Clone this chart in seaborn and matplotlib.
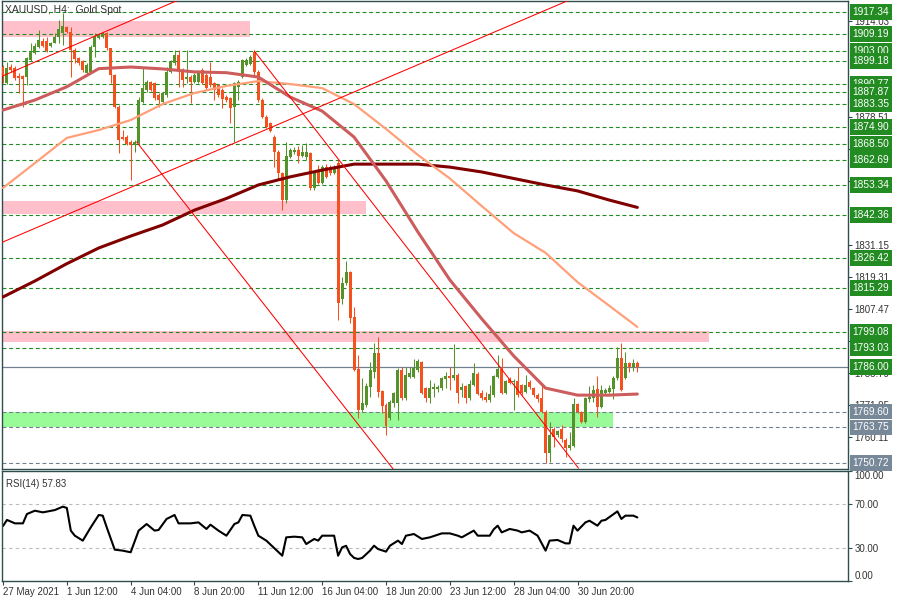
import numpy as np
import pandas as pd
import matplotlib
matplotlib.use('Agg')
import matplotlib.pyplot as plt
import matplotlib.transforms as mtransforms
import seaborn as sns

sns.set_theme(style='white', context='paper')
plt.rcParams['font.family'] = ['Liberation Sans', 'DejaVu Sans']

# H4 candles, bar 0 = 27 May 2021 00:00
opens = [1897.0, 1891.1, 1897.0, 1896.6, 1893.7, 1893.7, 1893.3, 1899.6, 1902.2, 1904.4,
         1906.6, 1906.6, 1904.8, 1905.9, 1908.1, 1909.6, 1911.8, 1910.0, 1903.3, 1900.3,
         1899.2, 1894.8, 1895.2, 1904.4, 1907.7, 1908.1, 1909.6, 1904.0, 1894.1, 1882.2,
         1871.1, 1871.1, 1869.3, 1868.2, 1868.9, 1884.1, 1888.5, 1891.5, 1891.1, 1886.7,
         1884.1, 1886.7, 1895.2, 1898.5, 1901.5, 1895.9, 1892.6, 1893.3, 1891.5, 1891.5,
         1895.9, 1894.1, 1893.3, 1891.1, 1890.4, 1888.5, 1885.9, 1885.6, 1882.2, 1889.6,
         1893.3, 1897.8, 1898.1, 1902.6, 1895.2, 1884.8, 1878.5, 1876.3, 1871.1, 1865.6,
         1857.8, 1847.8, 1863.7, 1865.6, 1866.3, 1864.1, 1863.7, 1865.2, 1852.3, 1858.6,
         1854.1, 1860.0, 1860.0, 1857.8, 1861.5, 1811.2, 1817.2, 1821.2, 1804.6, 1785.4,
         1770.2, 1772.1, 1778.7, 1784.3, 1791.3, 1777.2, 1772.1, 1767.2, 1772.8, 1772.8,
         1785.0, 1774.6, 1782.4, 1782.4, 1785.0, 1788.0, 1778.3, 1774.6, 1778.0, 1778.0,
         1778.3, 1781.7, 1782.8, 1782.0, 1783.1, 1777.6, 1779.1, 1774.6, 1779.4, 1783.5,
         1776.5, 1775.0, 1773.9, 1775.7, 1782.4, 1785.4, 1776.5, 1781.7, 1780.6, 1780.9,
         1779.4, 1776.9, 1780.6, 1778.3, 1775.7, 1774.6, 1769.5, 1754.3, 1763.2, 1761.0,
         1763.2, 1759.1, 1756.2, 1756.9, 1772.4, 1769.5, 1765.8, 1774.3, 1774.6, 1778.0,
         1771.3, 1776.5, 1776.9, 1778.0, 1782.0, 1789.4, 1782.0, 1787.6, 1786.1, 1787.6]
highs = [1897.8, 1898.9, 1898.1, 1897.4, 1894.8, 1894.1, 1900.7, 1905.9, 1905.9, 1910.7,
         1907.7, 1908.1, 1906.3, 1909.6, 1914.4, 1917.0, 1912.2, 1911.8, 1904.0, 1900.7,
         1899.6, 1898.5, 1905.1, 1909.6, 1909.6, 1910.0, 1909.8, 1904.2, 1894.3, 1883.0,
         1873.7, 1871.9, 1870.0, 1870.0, 1885.9, 1896.6, 1892.2, 1891.8, 1891.5, 1887.4,
         1887.8, 1897.0, 1899.6, 1903.3, 1903.3, 1896.6, 1903.3, 1894.1, 1894.8, 1895.9,
         1896.6, 1894.8, 1898.9, 1891.5, 1890.7, 1889.2, 1886.7, 1885.9, 1891.5, 1892.2,
         1900.0, 1900.3, 1901.5, 1903.3, 1895.9, 1885.6, 1879.3, 1876.7, 1871.9, 1866.3,
         1858.2, 1869.3, 1867.1, 1867.4, 1867.8, 1868.2, 1868.9, 1865.6, 1858.9, 1860.8,
         1860.8, 1861.1, 1860.8, 1860.8, 1862.6, 1819.4, 1825.3, 1821.5, 1808.3, 1790.5,
         1782.0, 1780.2, 1788.0, 1795.0, 1797.2, 1777.6, 1772.8, 1773.9, 1776.9, 1785.7,
         1786.1, 1786.1, 1786.1, 1789.1, 1789.1, 1788.3, 1778.7, 1781.3, 1780.2, 1779.4,
         1782.4, 1784.3, 1786.1, 1794.6, 1783.9, 1780.2, 1779.4, 1781.3, 1787.6, 1784.3,
         1777.6, 1776.9, 1779.4, 1783.1, 1790.5, 1789.4, 1781.3, 1782.4, 1781.7, 1786.1,
         1779.8, 1783.1, 1781.3, 1778.7, 1776.5, 1779.1, 1770.2, 1765.8, 1763.9, 1762.8,
         1764.7, 1759.9, 1762.1, 1774.6, 1772.8, 1769.8, 1775.0, 1779.1, 1779.4, 1782.8,
         1779.4, 1778.3, 1779.4, 1782.8, 1793.5, 1795.0, 1791.6, 1787.8, 1789.1, 1788.3]
lows = [1891.1, 1890.9, 1895.2, 1892.2, 1887.4, 1882.2, 1890.4, 1899.2, 1901.8, 1904.2,
        1904.4, 1902.6, 1904.4, 1905.7, 1905.9, 1905.1, 1909.6, 1893.3, 1898.5, 1897.8,
        1895.2, 1894.4, 1894.8, 1900.7, 1907.4, 1907.7, 1903.3, 1891.1, 1881.9, 1865.2,
        1870.0, 1868.2, 1855.2, 1865.6, 1868.2, 1883.7, 1887.8, 1888.1, 1884.8, 1882.2,
        1883.7, 1885.9, 1894.8, 1897.8, 1889.6, 1889.6, 1891.1, 1883.7, 1891.1, 1891.1,
        1890.7, 1888.9, 1889.6, 1884.8, 1885.9, 1881.9, 1884.1, 1876.3, 1869.3, 1884.8,
        1892.9, 1897.4, 1897.8, 1894.1, 1884.1, 1878.3, 1874.5, 1873.0, 1860.0, 1855.2,
        1844.1, 1846.7, 1863.4, 1864.8, 1861.5, 1863.7, 1862.6, 1851.5, 1851.5, 1853.8,
        1853.8, 1856.0, 1857.1, 1857.5, 1803.5, 1809.4, 1816.4, 1802.4, 1784.6, 1767.2,
        1769.5, 1771.3, 1775.0, 1782.0, 1775.0, 1769.1, 1761.0, 1766.5, 1771.3, 1766.5,
        1773.9, 1773.9, 1782.0, 1782.0, 1784.3, 1776.1, 1773.2, 1772.8, 1775.0, 1776.9,
        1777.6, 1778.3, 1777.6, 1781.3, 1772.8, 1775.0, 1772.8, 1773.9, 1779.1, 1775.7,
        1773.9, 1773.2, 1773.2, 1775.0, 1782.0, 1776.2, 1776.2, 1779.8, 1770.2, 1775.0,
        1775.7, 1776.5, 1778.0, 1775.0, 1773.2, 1769.1, 1750.6, 1750.8, 1756.5, 1760.2,
        1758.4, 1752.8, 1755.4, 1756.5, 1769.1, 1765.4, 1765.4, 1773.2, 1773.2, 1767.6,
        1771.0, 1775.7, 1776.5, 1774.3, 1781.3, 1777.2, 1781.7, 1784.3, 1784.6, 1784.3]
closes = [1893.7, 1896.6, 1895.9, 1892.9, 1892.9, 1892.6, 1900.3, 1902.6, 1904.8, 1907.0,
          1904.8, 1902.9, 1905.9, 1908.1, 1911.1, 1912.2, 1910.0, 1903.3, 1900.0, 1898.5,
          1895.9, 1897.8, 1904.4, 1908.1, 1909.2, 1909.6, 1904.0, 1894.1, 1882.2, 1870.0,
          1870.4, 1868.5, 1868.2, 1869.3, 1884.8, 1889.2, 1891.5, 1888.5, 1885.6, 1884.8,
          1887.4, 1895.2, 1898.9, 1901.5, 1895.9, 1892.2, 1893.3, 1891.5, 1894.1, 1895.2,
          1891.1, 1889.2, 1890.4, 1888.5, 1886.7, 1885.2, 1884.8, 1881.9, 1891.1, 1891.5,
          1899.6, 1899.6, 1900.7, 1895.2, 1884.8, 1878.6, 1874.8, 1873.3, 1865.6, 1857.8,
          1847.8, 1864.1, 1866.3, 1866.3, 1864.1, 1865.6, 1865.6, 1852.3, 1858.2, 1854.1,
          1860.0, 1856.3, 1857.8, 1859.7, 1809.8, 1817.2, 1821.2, 1804.2, 1785.0, 1770.2,
          1772.8, 1779.1, 1785.0, 1791.3, 1776.9, 1771.7, 1764.3, 1773.2, 1776.5, 1785.0,
          1774.6, 1783.1, 1783.9, 1785.7, 1788.3, 1776.5, 1774.6, 1778.3, 1778.7, 1778.7,
          1782.0, 1782.8, 1782.0, 1783.1, 1776.5, 1778.7, 1774.6, 1779.8, 1783.9, 1776.1,
          1774.6, 1773.9, 1776.1, 1782.8, 1785.4, 1776.5, 1780.9, 1780.2, 1780.9, 1775.7,
          1776.5, 1779.4, 1778.7, 1775.7, 1774.3, 1769.5, 1754.3, 1761.0, 1760.2, 1762.4,
          1759.5, 1756.2, 1757.3, 1772.4, 1769.5, 1765.8, 1774.6, 1775.0, 1777.6, 1771.3,
          1777.6, 1777.6, 1778.3, 1782.0, 1789.4, 1777.6, 1787.6, 1786.1, 1787.6, 1786.0]

# moving averages, read every 8 bars
ma_bars = [0, 8, 16, 24, 32, 40, 48, 56, 64, 72, 80, 88, 96, 104, 112, 120, 128, 136, 144, 152, 159]
ma_fast = [1881.1, 1884.8, 1889.7, 1896.4, 1897.0, 1896.3, 1895.2, 1894.9, 1893.3, 1885.9, 1880.7,
           1871.1, 1854.9, 1836.0, 1818.3, 1803.9, 1790.2, 1778.3, 1775.7, 1775.7, 1776.1]
ma_mid = [1852.3, 1861.5, 1870.8, 1873.7, 1877.4, 1883.3, 1887.4, 1890.0, 1891.8, 1890.7, 1889.2,
          1883.3, 1874.1, 1864.5, 1855.8, 1845.6, 1835.6, 1828.3, 1817.5, 1808.7, 1800.9]
ma_slow = [1812.0, 1817.9, 1824.3, 1830.1, 1834.5, 1838.6, 1844.1, 1848.4, 1853.4, 1856.4, 1858.9,
           1861.1, 1861.1, 1861.1, 1860.0, 1858.2, 1855.8, 1853.4, 1851.2, 1847.8, 1845.1]

# RSI(14)
rsi_bars = [0, 1, 3, 5, 6, 8, 10, 13, 15, 16, 17, 18, 20, 22, 24, 25, 26, 28, 30, 32,
            34, 36, 38, 39, 41, 43, 44, 47, 49, 51, 52, 54, 56, 58, 59, 60, 62, 63, 64, 66,
            70, 71, 73, 75, 76, 78, 79, 80, 83, 84, 85, 86, 87, 88, 89, 90, 92, 93, 94, 96,
            97, 99, 100, 101, 103, 105, 107, 110, 112, 114, 115, 118, 119, 122, 123, 124, 125, 127, 129, 130,
            132, 134, 136, 137, 139, 141, 142, 143, 144, 146, 147, 149, 150, 151, 154, 155, 156, 158, 159]
rsi_vals = [50.0, 55.5, 52.4, 52.4, 60.9, 63.9, 62.4, 64.5, 67.6, 66.4, 45.8, 41.2, 36.7, 48.8, 60.0, 59.4, 48.8, 28.5, 27.6, 26.1,
            45.8, 51.8, 45.8, 46.4, 56.4, 60.0, 52.4, 52.4, 53.3, 47.3, 51.2, 45.8, 41.2, 51.8, 53.3, 60.0, 59.4, 50.0, 41.2, 36.7,
            23.0, 39.7, 40.3, 39.7, 33.6, 38.2, 36.7, 41.2, 41.2, 23.0, 30.6, 32.0, 24.5, 21.0, 20.0, 20.9, 27.6, 32.1, 29.1, 26.7,
            32.1, 36.7, 33.6, 41.2, 42.7, 38.2, 39.7, 43.3, 43.3, 41.2, 39.7, 45.8, 41.2, 41.2, 47.0, 50.3, 44.2, 47.3, 45.8, 44.2,
            45.8, 41.2, 27.6, 36.7, 37.3, 34.2, 34.2, 50.3, 45.8, 53.3, 54.8, 50.3, 54.8, 55.5, 63.3, 56.4, 59.4, 59.4, 57.8]
rsi_now = 57.83

green_levels = [1917.34, 1909.19, 1903.00, 1899.18, 1890.77, 1887.87, 1883.35, 1874.90, 1868.50,
                1862.69, 1853.34, 1842.36, 1826.42, 1815.29, 1799.08, 1793.03]
gray_levels = [1769.60, 1763.75, 1750.72]
bid_price = 1786.00
# price scale ticks that show (wholly or partly) beside the level boxes
price_ticks = [1914.03, 1878.51, 1866.67, 1854.83, 1831.15,
               1819.31, 1807.47, 1795.63, 1783.79, 1771.95, 1760.11]

# zones: start bar, end bar, low, high
pink_zones = [(0, 62, 1908.2, 1914.1), (0, 91, 1842.6, 1847.6), (0, 177, 1795.4, 1799.3)]
green_zones = [(0, 153, 1763.8, 1769.6)]

# trend lines: (bar, price) -> (bar, price)
trend_lines = [((-1, 1893.1), (44, 1921.8)),
               ((-1, 1831.7), (142, 1921.8)),
               ((63, 1902.9), (144.25, 1748.7)),
               ((33.5, 1869.3), (98, 1748.0))]

date_ticks = [0, 16, 32, 48, 64, 80, 96, 112, 128, 144]
date_labels = ['27 May 2021', '1 Jun 12:00', '4 Jun 04:00', '8 Jun 20:00', '11 Jun 12:00',
               '16 Jun 04:00', '18 Jun 20:00', '23 Jun 12:00', '28 Jun 04:00', '30 Jun 20:00']

frame_col = '#2F4F4F'
up_col = '#56922C'
down_col = '#F4511E'
lvl_green = '#1F8A1F'
lvl_gray = '#708090'

df = pd.DataFrame({'o': opens, 'h': highs, 'l': lows, 'c': closes})
df['bar'] = np.arange(len(df))
df['up'] = df['c'] >= df['o']

fig = plt.figure(figsize=(9, 6), dpi=100)
fig.patch.set_facecolor('white')
ax = fig.add_axes([2/900, 1-469/600, 846/900, 468/600])
ax2 = fig.add_axes([2/900, 1-581/600, 846/900, 110/600])

xlim = (-0.25, 211.8)

# ---- main chart ----
for b0, b1, lo, hi in pink_zones:
    ax.fill_between([b0, b1], lo, hi, color='#FFC0CB', lw=0, zorder=1)
for b0, b1, lo, hi in green_zones:
    ax.fill_between([b0, b1], lo, hi, color='#98FB98', lw=0, zorder=1)

for p in green_levels:
    ax.axhline(p, color=lvl_green, lw=0.8, ls=(0, (3.5, 2.5)), zorder=1.5)
for p in gray_levels:
    ax.axhline(p, color=lvl_gray, lw=0.8, ls=(0, (3.5, 2.5)), zorder=1.5)
ax.axhline(bid_price, color=lvl_gray, lw=0.9, zorder=1.5)

cols = np.where(df['up'], up_col, down_col)
ax.vlines(df['bar'], df['l'], df['h'], colors=cols, lw=0.75, zorder=3)
body_lo = df[['o', 'c']].min(axis=1)
body_h = np.maximum((df['c'] - df['o']).abs(), 0.35)
ax.bar(df['bar'], body_h, bottom=body_lo, width=0.75, color=cols, lw=0, zorder=3)

sns.lineplot(x=ma_bars, y=ma_slow, ax=ax, color='#800000', linewidth=2.2, zorder=4)
sns.lineplot(x=ma_bars, y=ma_mid, ax=ax, color='#FFA07A', linewidth=1.6, zorder=4)
sns.lineplot(x=ma_bars, y=ma_fast, ax=ax, color='#CD5C5C', linewidth=2.2, zorder=4)

for (b0, p0), (b1, p1) in trend_lines:
    ax.plot([b0, b1], [p0, p1], color='#FF0000', lw=0.75, zorder=4.5)

ax.set_xlim(*xlim)
ax.set_ylim(1748.39, 1921.41)
ax.set_xticks([])
ax.yaxis.tick_right()
ax.set_yticks(price_ticks)
ax.set_yticklabels(['%.2f' % t for t in price_ticks])
ax.tick_params(axis='y', right=True, left=False, length=3, width=0.8, color=frame_col,
               labelsize=7, labelcolor='#333333', pad=1.5)
ax.set_xlabel('')
ax.set_ylabel('')

trans = mtransforms.blended_transform_factory(ax.transAxes, ax.transData)
for p in green_levels + [bid_price]:
    ax.text(1.0055, p, '%.2f' % p, transform=trans, ha='left', va='center', fontsize=7.3,
            color='white', zorder=10, clip_on=False,
            bbox=dict(boxstyle='square,pad=0.28', fc='#228B22', ec='none'))
for p in gray_levels:
    ax.text(1.0055, p, '%.2f' % p, transform=trans, ha='left', va='center', fontsize=7.3,
            color='white', zorder=10, clip_on=False,
            bbox=dict(boxstyle='square,pad=0.28', fc='#778899', ec='none'))

ax.text(0.004, 0.992, 'XAUUSD, H4:  Gold Spot', transform=ax.transAxes, ha='left', va='top',
        fontsize=7.5, color='#333333', zorder=10)

# ---- RSI panel ----
ax2.axhline(70, color='#BBBBBB', lw=0.8, ls=(0, (3, 3)))
ax2.axhline(30, color='#BBBBBB', lw=0.8, ls=(0, (3, 3)))
sns.lineplot(x=rsi_bars, y=rsi_vals, ax=ax2, color='black', linewidth=1.5)
ax2.set_xlim(*xlim)
ax2.set_ylim(0, 100)
ax2.yaxis.tick_right()
ax2.set_yticks([0, 30, 70, 100])
ax2.set_yticklabels(['0.00', '30.00', '70.00', '100.00'])
ax2.tick_params(axis='y', right=True, left=False, length=3, width=0.8, color=frame_col,
                labelsize=7, labelcolor='#333333', pad=1.5)
ylabs = ax2.get_yticklabels()
ylabs[0].set_va('bottom')
ylabs[3].set_va('top')
ax2.set_xticks(date_ticks)
ax2.set_xticklabels(date_labels, ha='left')
ax2.tick_params(axis='x', bottom=True, length=3, width=0.8, color=frame_col,
                labelsize=7, labelcolor='#333333', pad=1.5)
ax2.set_xlabel('')
ax2.set_ylabel('')
ax2.text(0.005, 0.93, 'RSI(14) %.2f' % rsi_now, transform=ax2.transAxes, ha='left', va='top',
         fontsize=7, color='#333333')

for a in (ax, ax2):
    a.set_facecolor('white')
    for s in a.spines.values():
        s.set_color(frame_col)
        s.set_linewidth(1.0)

fig.savefig('out.png', dpi=100)
